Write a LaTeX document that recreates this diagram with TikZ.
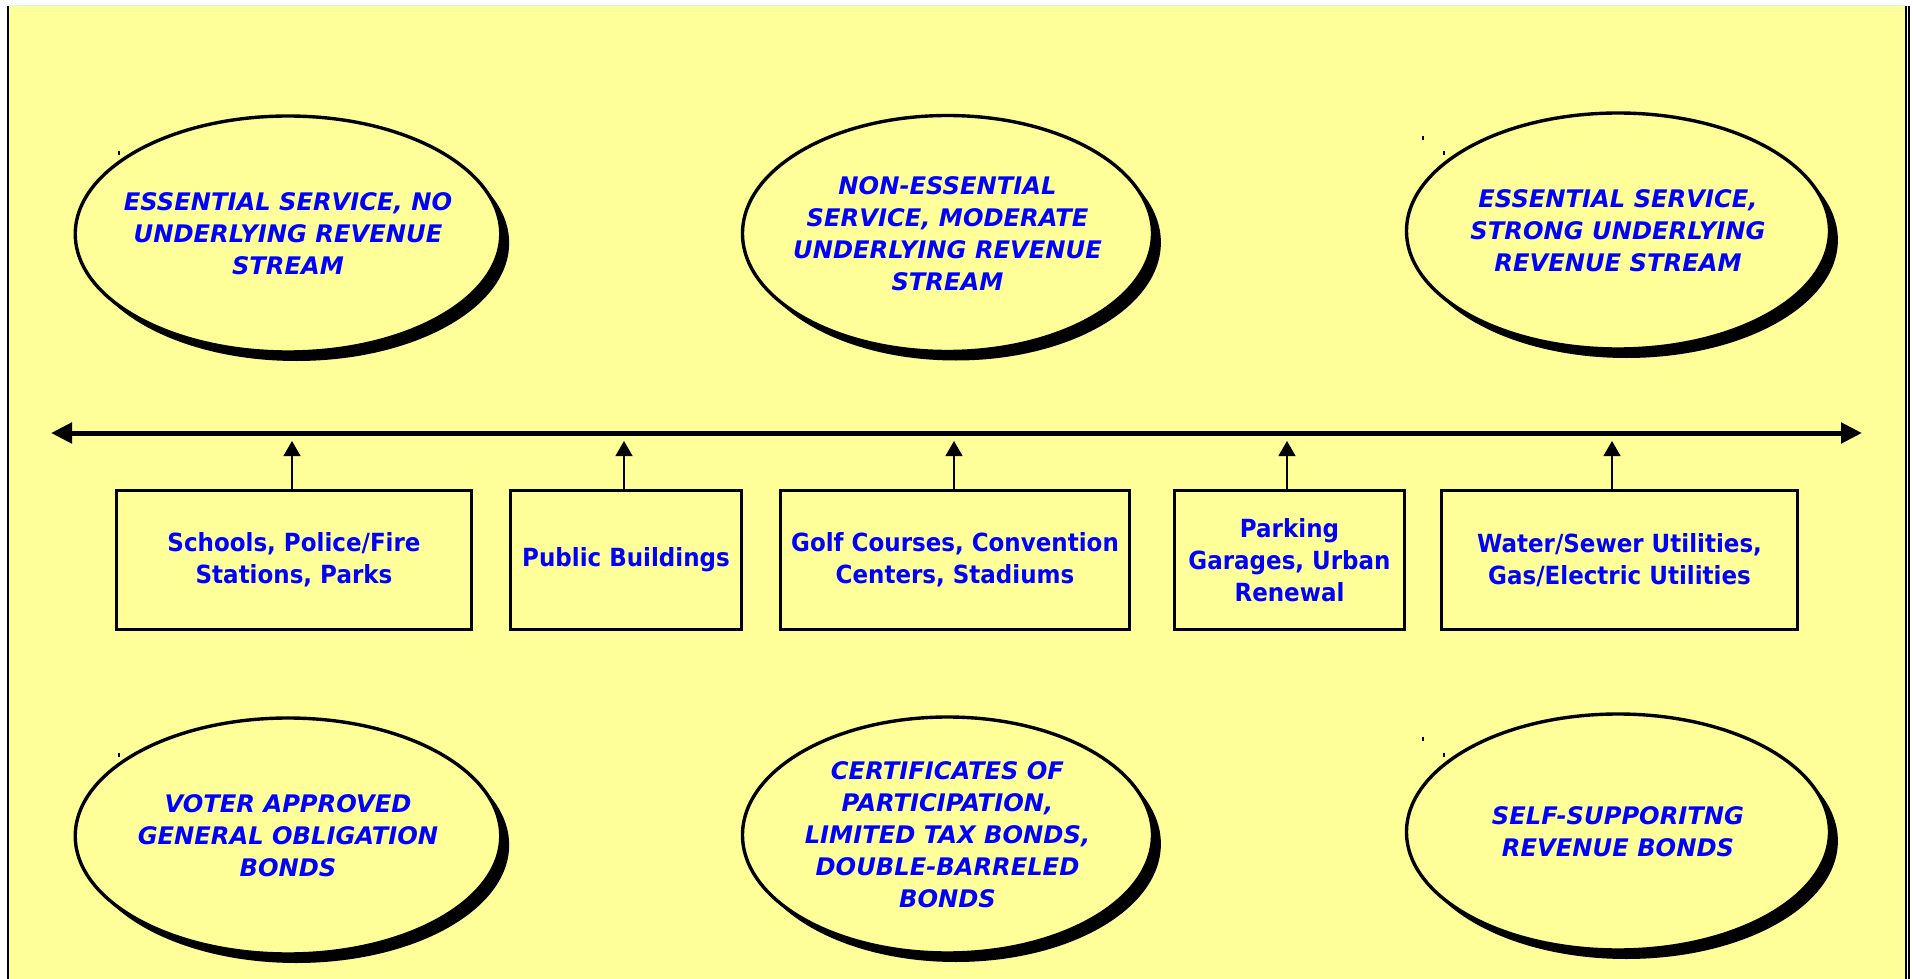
\documentclass[tikz,border=0pt]{standalone}
\usepackage{fontspec}
\setmainfont{DejaVu Sans}
\newfontfamily\boxfont{DejaVu Sans}[FakeStretch=0.92]
\usetikzlibrary{shapes.geometric,arrows.meta,shadows}
\definecolor{bgyellow}{RGB}{255,255,153}
\definecolor{txtblue}{RGB}{0,0,255}
\definecolor{topline}{RGB}{204,255,230}
\begin{document}
\begin{tikzpicture}[x=0.5pt,y=-0.5pt,
  ell/.style={ellipse, draw=black, line width=1.7pt, fill=bgyellow, inner sep=0pt,
    drop shadow={shadow xshift=4.2pt, shadow yshift=-4.5pt, fill=black, opacity=1}},
  elltext/.style={align=center, text=txtblue, inner sep=0pt,
    font=\fontsize{12.1}{16}\selectfont\bfseries\itshape},
  catbox/.style={rectangle, draw=black, line width=1.8pt, fill=bgyellow,
    minimum height=69.5pt, inner sep=0pt, align=center, text=txtblue,
    font=\boxfont\fontsize{12.5}{16}\selectfont\bfseries},
  axisline/.style={line width=2.5pt,
    {Triangle[width=10pt,length=10.5pt]}-{Triangle[width=10pt,length=10.5pt]}},
  uparrow/.style={line width=0.6pt, -{Triangle[width=8.5pt,length=7.5pt]}},
  tickmark/.style={line width=0.6pt}]

% canvas and frame
\fill[white] (0,0) rectangle (1913,979);
\useasboundingbox (0,0) rectangle (1913,979);
\fill[bgyellow] (9,6) rectangle (1906,979);
\draw[topline, line width=0.6pt] (9,5.5) -- (1906,5.5);
\draw[black, line width=1pt] (8,6) -- (8,979);
\draw[black, line width=0.7pt] (1906,6) -- (1906,979);
\draw[black, line width=0.7pt] (1909,6) -- (1909,979);

% top ellipses
\node[ell, minimum width=212.75pt, minimum height=118pt] (e1) at (288,234) {};
\node[elltext] (e1t) at (e1.center) {ESSENTIAL SERVICE, NO\\UNDERLYING REVENUE\\STREAM};
\node[ell, minimum width=205pt, minimum height=118pt] (e2) at (947.5,233.5) {};
\node[elltext] (e2t) at (e2.center) {NON-ESSENTIAL\\SERVICE, MODERATE\\UNDERLYING REVENUE\\STREAM};
\node[ell, minimum width=211.5pt, minimum height=118pt] (e3) at (1618,231) {};
\node[elltext] (e3t) at (e3.center) {ESSENTIAL SERVICE,\\STRONG UNDERLYING\\REVENUE STREAM};

% bottom ellipses
\node[ell, minimum width=212.75pt, minimum height=118pt] (e4) at (288,836) {};
\node[elltext] (e4t) at (e4.center) {VOTER APPROVED\\GENERAL OBLIGATION\\BONDS};
\node[ell, minimum width=205pt, minimum height=118pt] (e5) at (947.5,835) {};
\node[elltext] (e5t) at (e5.center) {CERTIFICATES OF\\PARTICIPATION,\\LIMITED TAX BONDS,\\DOUBLE-BARRELED\\BONDS};
\node[ell, minimum width=211.5pt, minimum height=118pt] (e6) at (1618,832) {};
\node[elltext] (e6t) at (e6.center) {SELF-SUPPORITNG\\REVENUE BONDS};

% category boxes
\node[catbox, minimum width=177.5pt] (b1) at (294,560) {Schools, Police/Fire\\Stations, Parks};
\node[catbox, minimum width=115.5pt] (b2) at (626,560) {Public Buildings};
\node[catbox, minimum width=174.5pt] (b3) at (955,560) {Golf Courses, Convention\\Centers, Stadiums};
\node[catbox, minimum width=115pt] (b4) at (1289.5,560) {Parking\\Garages, Urban\\Renewal};
\node[catbox, minimum width=178pt] (b5) at (1619.5,560) {Water/Sewer Utilities,\\Gas/Electric Utilities};

% main axis
\coordinate (axL) at (51,433);
\coordinate (axR) at (1862,433);
\draw[axisline] (axL) -- (axR);

% arrows from boxes to axis
\coordinate (t1) at (292,441);
\coordinate (t2) at (624,441);
\coordinate (t3) at (954,441);
\coordinate (t4) at (1287,441);
\coordinate (t5) at (1612,441);
\draw[uparrow] (b1.north -| t1) -- (t1);
\draw[uparrow] (b2.north -| t2) -- (t2);
\draw[uparrow] (b3.north -| t3) -- (t3);
\draw[uparrow] (b4.north -| t4) -- (t4);
\draw[uparrow] (b5.north -| t5) -- (t5);

% small stray marks
\draw[tickmark] (119,151) -- (119,155);
\draw[tickmark] (1423,136) -- (1423,140);
\draw[tickmark] (1444,151) -- (1444,155);
\draw[tickmark] (119,753) -- (119,757);
\draw[tickmark] (1423,737) -- (1423,741);
\draw[tickmark] (1444,753) -- (1444,757);
\end{tikzpicture}
\end{document}
